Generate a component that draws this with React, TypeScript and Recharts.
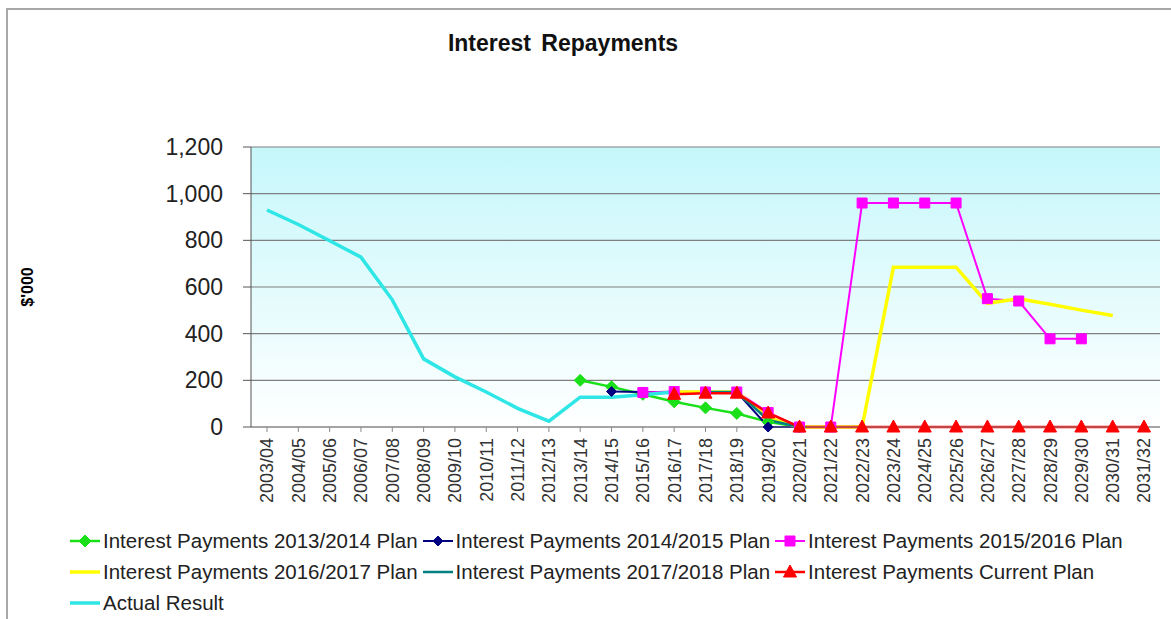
import React from 'react';
import { LineChart, Line, XAxis, YAxis, CartesianGrid } from 'recharts';

const years = [
  '2003/04', '2004/05', '2005/06', '2006/07', '2007/08', '2008/09', '2009/10', '2010/11',
  '2011/12', '2012/13', '2013/14', '2014/15', '2015/16', '2016/17', '2017/18', '2018/19',
  '2019/20', '2020/21', '2021/22', '2022/23', '2023/24', '2024/25', '2025/26', '2026/27',
  '2027/28', '2028/29', '2029/30', '2030/31', '2031/32',
];

const _ = null;
// values in $'000, one entry per financial year above
const plan1314 = [_, _, _, _, _, _, _, _, _, _, 200, 172, 140, 108, 82, 58, 22, 0, _, _, _, _, _, _, _, _, _, _, _];
const plan1415 = [_, _, _, _, _, _, _, _, _, _, _, 152, 150, 150, 150, 150, 0, 0, _, _, _, _, _, _, _, _, _, _, _];
const plan1516 = [_, _, _, _, _, _, _, _, _, _, _, _, 148, 152, 150, 150, 62, 0, 0, 960, 960, 960, 960, 550, 540, 378, 378, _, _];
const plan1617 = [_, _, _, _, _, _, _, _, _, _, _, _, _, 150, 150, 150, 40, 0, 0, 0, 685, 685, 685, 530, 550, 526, 501, 478, _];
const plan1718 = [_, _, _, _, _, _, _, _, _, _, _, _, _, _, 150, 150, 30, 0, _, _, _, _, _, _, _, _, _, _, _];
const currentPlan = [_, _, _, _, _, _, _, _, _, _, _, _, _, 140, 145, 145, 60, 0, 0, 0, 0, 0, 0, 0, 0, 0, 0, 0, 0];
const actual = [930, 868, 798, 728, 545, 292, 215, 150, 80, 25, 128, 128, 138, 150, _, _, _, _, _, _, _, _, _, _, _, _, _, _, _];

const yTicks = [0, 200, 400, 600, 800, 1000, 1200];

const data = years.map((year, i) => ({
  year,
  p1314: plan1314[i],
  p1415: plan1415[i],
  p1516: plan1516[i],
  p1617: plan1617[i],
  p1718: plan1718[i],
  current: currentPlan[i],
  actual: actual[i],
}));

const FONT = '"Liberation Sans", Arial, sans-serif';

type MarkerKind = 'diamond' | 'smallDiamond' | 'square' | 'triangle' | 'none';

const markerPath = (kind: MarkerKind, cx: number, cy: number) => {
  switch (kind) {
    case 'diamond':
      return `M${cx},${cy - 6}L${cx + 6},${cy}L${cx},${cy + 6}L${cx - 6},${cy}Z`;
    case 'smallDiamond':
      return `M${cx},${cy - 5}L${cx + 5},${cy}L${cx},${cy + 5}L${cx - 5},${cy}Z`;
    case 'square':
      return `M${cx - 5},${cy - 5}h10v10h-10Z`;
    case 'triangle':
      return `M${cx},${cy - 7}L${cx + 6.5},${cy + 5}L${cx - 6.5},${cy + 5}Z`;
    default:
      return '';
  }
};

const makeDot = (kind: MarkerKind, color: string) => (props: any) => {
  const { cx, cy, index, value } = props;
  if (cx == null || cy == null || value == null) return <g key={`e-${index}`} />;
  return <path key={`m-${index}`} d={markerPath(kind, cx, cy)} fill={color} stroke={color} strokeWidth={1} />;
};

const series = [
  { key: 'p1314', name: 'Interest Payments 2013/2014 Plan', color: '#19e019', width: 2.5, marker: 'diamond' as MarkerKind },
  { key: 'p1415', name: 'Interest Payments 2014/2015 Plan', color: '#000080', width: 2, marker: 'smallDiamond' as MarkerKind },
  { key: 'p1516', name: 'Interest Payments 2015/2016 Plan', color: '#ff00ff', width: 2, marker: 'square' as MarkerKind },
  { key: 'p1617', name: 'Interest Payments 2016/2017 Plan', color: '#ffff00', width: 3.5, marker: 'none' as MarkerKind },
  { key: 'p1718', name: 'Interest Payments 2017/2018 Plan', color: '#008080', width: 2.5, marker: 'none' as MarkerKind },
  { key: 'current', name: 'Interest Payments Current Plan', color: '#ff0000', width: 2.5, marker: 'triangle' as MarkerKind },
  { key: 'actual', name: 'Actual Result', color: '#2ee6e6', width: 3.5, marker: 'none' as MarkerKind },
];

const legendRows = [[0, 1, 2], [3, 4, 5], [6]];

const XTick = (props: any) => {
  const { x, y, payload } = props;
  return (
    <text
      x={x}
      y={y}
      dy="0.36em"
      textAnchor="end"
      transform={`rotate(-90, ${x}, ${y})`}
      fontSize={18}
      fontFamily={FONT}
      fill="#333"
    >
      {payload.value}
    </text>
  );
};

const YLabel = (props: any) => {
  const { viewBox } = props;
  const cy = viewBox.y + viewBox.height / 2;
  return (
    <text
      x={27}
      y={cy}
      textAnchor="middle"
      dominantBaseline="central"
      transform={`rotate(-90, 27, ${cy})`}
      fontSize={16}
      fontWeight="bold"
      fontFamily={FONT}
      fill="#000"
    >
      $'000
    </text>
  );
};

const LegendIcon = ({ color, width, marker }: { color: string; width: number; marker: MarkerKind }) => (
  <svg width={30} height={20} style={{ flex: 'none' }}>
    <line x1={0} y1={10} x2={30} y2={10} stroke={color} strokeWidth={width} />
    {marker !== 'none' && <path d={markerPath(marker, 15, 10)} fill={color} stroke={color} />}
  </svg>
);

export default function App() {
  return (
    <div style={{ position: 'fixed', left: 0, top: 0, width: 1171, height: 619, overflow: 'hidden', background: '#fff' }}>
      <div style={{ position: 'absolute', left: 6, top: 8, width: 1200, height: 700, border: '2px solid #a8a8a8' }} />
      <div
        style={{
          position: 'absolute', left: 0, width: 1126, top: 30, textAlign: 'center',
          fontFamily: FONT, fontWeight: 'bold', fontSize: 23, color: '#111', wordSpacing: 4,
        }}
      >
        Interest Repayments
      </div>
      <div style={{ position: 'absolute', left: 0, top: 0 }}>
        <LineChart width={1171} height={619} data={data} margin={{ top: 147, right: 11, bottom: 100, left: 0 }}>
          <defs>
            <linearGradient id="plotBg" x1="0" y1="0" x2="0" y2="1">
              <stop offset="0%" stopColor="#c6f7fb" />
              <stop offset="100%" stopColor="#ffffff" />
            </linearGradient>
          </defs>
          <CartesianGrid vertical={false} stroke="#7f7f7f" strokeWidth={1.2} fill="url(#plotBg)" fillOpacity={1} />
          <XAxis
            dataKey="year"
            interval={0}
            height={92}
            padding={{ left: 16, right: 16 }}
            tick={<XTick />}
            tickSize={5}
            tickMargin={6}
            stroke="#8a8a8a"
          />
          <YAxis
            domain={[0, 1200]}
            ticks={yTicks}
            width={251}
            tickSize={8}
            tickMargin={20}
            stroke="#555"
            tick={{ fontSize: 23, fontFamily: FONT, fill: '#222' }}
            tickFormatter={(v: number) => v.toLocaleString('en-US')}
            label={<YLabel />}
          />
          <YAxis yAxisId="frame" orientation="right" width={0} domain={[0, 1200]} tick={false} tickLine={false} stroke="#9a9a9a" />
          {series.map((s) => (
            <Line
              key={s.key}
              dataKey={s.key}
              name={s.name}
              type="linear"
              stroke={s.color}
              strokeWidth={s.width}
              dot={s.marker === 'none' ? false : makeDot(s.marker, s.color)}
              activeDot={false}
              isAnimationActive={false}
            />
          ))}
        </LineChart>
      </div>
      <div style={{ position: 'absolute', left: 70, top: 525, fontFamily: FONT, fontSize: 20.5, color: '#222' }}>
        {legendRows.map((row, ri) => (
          <div key={ri} style={{ display: 'flex', alignItems: 'center', height: 31, whiteSpace: 'nowrap' }}>
            {row.map((idx) => {
              const s = series[idx];
              return (
                <div key={s.key} style={{ display: 'flex', alignItems: 'center', marginRight: 5 }}>
                  <LegendIcon color={s.color} width={s.width} marker={s.marker} />
                  <span style={{ marginLeft: 3 }}>{s.name}</span>
                </div>
              );
            })}
          </div>
        ))}
      </div>
    </div>
  );
}
